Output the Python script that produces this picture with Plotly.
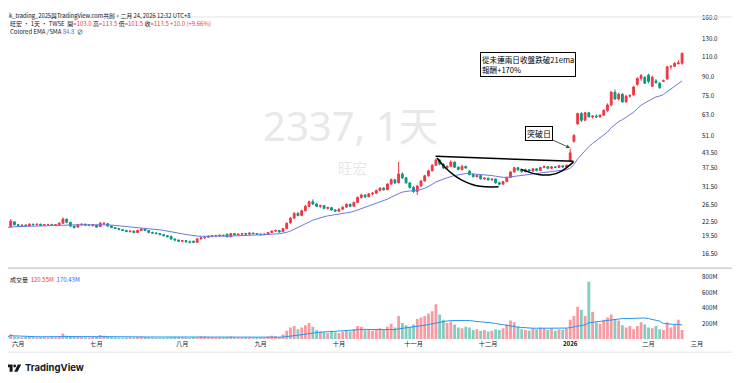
import plotly.graph_objects as go
import pandas as pd
import numpy as np

# ---------------- data ----------------
holidays = ["2025-05-30", "2025-09-29", "2025-10-06", "2025-10-10", "2025-10-24",
            "2025-12-25", "2026-01-01", "2026-02-12", "2026-02-13", "2026-02-16",
            "2026-02-17", "2026-02-18", "2026-02-19", "2026-02-20"]
dates = [d for d in pd.bdate_range("2025-05-27", "2026-02-24")
         if d.strftime("%Y-%m-%d") not in holidays]

opens = [21.3,21.4,22.4,21.8,21.6,21.7,21.6,21.9,21.8,21.9,21.7,21.8,21.8,21.7,21.8,22.1,23.0,22.3,21.5,21.3,
         21.8,21.9,21.7,21.6,21.7,21.4,22.0,22.0,21.5,21.2,21.0,20.8,20.6,20.4,20.5,20.2,20.6,20.9,20.6,20.2,
         20.1,20.0,19.8,19.6,19.5,19.0,18.8,18.6,18.7,18.5,18.6,18.4,19.0,19.2,19.3,19.5,19.6,19.6,19.7,19.9,
         19.4,20.0,19.8,19.9,20.0,19.9,20.1,20.0,19.9,19.8,19.9,20.2,20.5,20.6,20.4,21.0,22.2,23.2,24.3,23.8,
         24.9,26.0,27.2,26.6,26.0,26.2,25.5,25.7,25.1,24.8,25.3,25.8,26.5,26.0,27.0,28.3,29.0,28.5,29.3,29.5,
         30.3,31.0,30.5,32.2,33.6,32.6,35.5,34.2,32.6,31.2,30.0,31.6,33.2,34.9,36.6,38.6,40.6,39.0,37.6,38.2,
         39.8,37.9,37.0,38.2,36.5,35.3,34.6,35.0,33.9,34.1,33.6,33.8,32.6,32.2,33.0,34.3,36.2,37.7,36.9,36.3,
         37.0,36.5,37.3,36.7,37.8,38.1,37.5,38.0,37.8,38.4,38.0,40.3,48.6,57.5,63.5,59.5,64.0,61.5,62.0,61.5,
         62.5,65.5,69.0,78.0,73.0,76.5,71.0,75.0,76.0,84.0,89.0,90.0,92.0,82.5,87.0,85.0,86.5,88.5,99.5,100.0,
         102.5,103.0]
highs = [21.5,23.0,22.5,21.9,21.8,21.9,22.1,22.0,22.0,22.0,21.9,22.0,22.0,21.9,22.3,23.4,23.1,22.4,21.6,22.0,
         22.0,22.0,21.8,21.9,21.8,22.4,22.3,22.1,21.6,21.3,21.1,20.9,20.8,20.6,20.6,20.8,21.0,21.0,20.7,20.4,
         20.3,20.1,19.9,19.7,19.6,19.1,18.9,18.8,18.8,18.7,18.7,19.2,19.4,19.4,19.6,19.7,19.8,19.8,19.8,20.0,
         20.1,20.1,20.0,20.1,20.1,20.2,20.2,20.1,20.0,20.0,20.3,20.6,20.8,20.7,21.1,22.3,23.5,24.6,24.6,25.2,
         26.4,27.5,27.8,26.9,26.4,26.3,25.9,25.8,25.3,25.5,26.0,26.8,26.7,27.2,28.6,29.4,29.2,29.6,29.8,30.6,
         31.2,31.3,32.5,34.0,33.8,39.8,36.0,34.5,32.8,31.6,32.0,33.5,35.2,37.0,39.0,41.2,41.0,39.4,38.6,40.5,
         40.0,38.2,38.8,38.4,36.8,35.6,35.3,35.2,34.4,34.3,34.0,34.0,33.0,33.2,34.6,36.5,38.0,38.0,37.2,37.4,
         37.2,37.6,37.5,38.0,38.6,38.3,38.4,38.3,38.8,38.6,38.9,45.3,52.0,64.0,64.5,64.5,64.5,62.5,63.0,63.0,
         66.0,70.0,79.0,80.0,77.5,77.0,76.0,76.5,83.0,90.0,93.0,91.0,93.0,91.5,88.5,86.0,88.0,100.5,101.0,104.0,
         106.0,113.5]
lows = [21.1,21.3,21.6,21.4,21.4,21.5,21.5,21.6,21.6,21.6,21.5,21.6,21.6,21.5,21.6,22.0,22.1,21.3,21.0,21.2,
        21.6,21.6,21.5,21.4,21.2,21.3,21.8,21.4,21.1,20.9,20.7,20.5,20.3,20.2,20.1,20.1,20.5,20.5,20.1,20.0,
        19.9,19.7,19.5,19.3,18.9,18.6,18.5,18.4,18.3,18.2,18.3,18.3,18.9,19.0,19.2,19.3,19.4,19.4,19.5,19.3,
        19.3,19.7,19.7,19.8,19.8,19.8,19.9,19.8,19.7,19.7,19.8,20.1,20.3,20.2,20.3,20.9,22.0,23.1,23.6,23.7,
        24.8,25.8,26.3,25.8,25.6,25.3,25.2,24.9,24.6,24.7,25.1,25.7,25.8,25.9,26.9,28.0,28.2,28.4,28.9,29.3,
        30.0,30.2,30.4,32.0,32.2,32.5,33.8,32.3,30.8,29.6,29.0,31.4,33.0,34.6,36.4,38.3,38.6,37.2,37.3,37.9,
        37.6,36.8,36.8,37.4,35.0,34.3,34.3,33.6,33.5,33.3,33.2,32.3,31.8,31.9,32.8,34.1,36.0,36.6,36.0,36.1,
        36.2,36.3,36.4,36.5,37.5,37.2,37.3,37.5,37.6,37.7,37.8,40.2,48.0,57.0,58.5,59.0,61.0,60.5,61.0,61.0,
        62.0,64.5,68.0,72.5,72.0,70.5,70.5,74.0,75.5,83.0,87.0,84.5,85.0,82.0,84.5,80.5,86.0,88.0,97.0,99.5,
        102.0,101.5]
closes = [21.2,22.6,21.8,21.6,21.7,21.6,21.9,21.8,21.9,21.7,21.8,21.8,21.7,21.8,22.1,23.0,22.3,21.5,21.2,21.8,
          21.9,21.7,21.7,21.8,21.3,22.1,22.1,21.5,21.2,21.0,20.8,20.6,20.4,20.5,20.2,20.6,20.9,20.6,20.2,20.1,
          20.0,19.8,19.6,19.4,19.0,18.8,18.6,18.7,18.5,18.4,18.4,19.0,19.2,19.3,19.5,19.6,19.6,19.7,19.6,19.4,
          20.0,19.8,19.9,20.0,19.9,20.1,20.0,19.9,19.8,19.9,20.2,20.5,20.6,20.3,21.0,22.1,23.2,24.3,23.8,24.9,
          26.0,27.2,26.6,26.0,26.2,25.5,25.7,25.1,24.8,25.3,25.8,26.5,26.0,27.0,28.3,29.0,28.5,29.3,29.5,30.3,
          31.0,30.5,32.2,33.6,32.6,35.5,34.2,32.6,31.2,30.0,31.6,33.2,34.9,36.6,38.6,40.6,39.0,37.6,38.2,39.8,
          37.9,37.1,38.2,37.6,35.3,34.6,35.0,33.9,34.1,33.6,33.8,32.6,32.2,33.0,34.3,36.2,37.7,36.9,36.3,37.0,
          36.5,37.3,36.7,37.8,38.1,37.5,38.0,37.8,38.4,38.0,38.6,43.5,51.5,63.5,59.5,64.0,61.5,62.0,61.5,62.5,
          65.5,69.0,78.0,73.0,76.5,71.0,75.0,75.5,82.0,89.0,91.5,85.0,86.5,90.0,85.5,81.5,87.0,99.5,100.0,103.0,
          103.5,113.5]
volumes_m = [30,65,35,
             30,25,28,35,25,22,28,25,22,30,26,35,75,45,40,30,35,28,25,22,30,
             28,55,45,35,28,25,22,20,22,25,20,30,35,28,25,22,20,18,20,22,25,30,28,
             25,22,20,24,26,40,35,28,25,22,24,20,30,35,25,22,20,24,22,20,25,
             22,25,35,45,40,30,60,110,150,170,130,150,180,210,160,120,100,90,80,100,90,
             80,95,120,100,130,170,160,120,130,110,130,140,120,160,200,150,300,210,180,160,
             190,260,280,300,330,360,450,320,250,210,230,190,150,140,160,150,120,130,110,120,
             100,110,130,120,140,190,240,220,160,130,120,110,140,130,150,140,120,140,110,130,120,140,
             250,300,420,380,300,740,350,220,200,250,280,320,260,240,180,150,170,130,170,220,190,
             150,140,170,130,120,220,150,190,250,120.55]

month_labels = ["六月", "七月", "八月", "九月", "十月", "十一月", "十二月", "<b>2026</b>", "二月", "三月"]
price_ticks = [160.0, 130.0, 110.0, 90.0, 75.0, 63.0, 51.0, 43.5, 37.5, 31.5, 26.5, 22.5, 19.5, 16.5]
price_tick_text = ["160.0", "130.0", "110.0", "90.0", "75.0", "63.0", "51.0", "43.50", "37.50",
                   "31.50", "26.50", "22.50", "19.50", "16.50"]
vol_ticks_m = [200, 400, 600, 800]

# hand-drawn pattern lines (x = bar index, y = price)
neck_x = [114.9, 151.9]
neck_y = [42.1, 40.1]
cup1_x = [115.3, 117.6, 120.2, 122.9, 125.6, 128.3, 131.8]
cup1_y = [41.4, 37.6, 34.8, 32.9, 31.8, 31.4, 31.4]
cup2_x = [137.7, 142.5, 146.1, 148.7, 151.9]
cup2_y = [37.2, 35.3, 35.3, 36.5, 39.9]

# ---------------- derived ----------------
n = len(closes)
xs = list(range(n))
vol = [v * 1e6 for v in volumes_m]
ema = pd.Series(closes).ewm(span=21, adjust=False).mean()
vma = pd.Series(vol).rolling(20, min_periods=1).mean()

tick_idx = []
prev = None
for i, d in enumerate(dates):
    if prev is not None and d.month != prev:
        tick_idx.append(i)
    prev = d.month
tick_idx = tick_idx[:9] + [n + 3]

UP, DN = "#F23645", "#089981"
vcol = ["rgba(242,54,69,0.5)" if c >= o else "rgba(8,153,129,0.5)" for o, c in zip(opens, closes)]

fig = go.Figure()
fig.add_trace(go.Candlestick(x=xs, open=opens, high=highs, low=lows, close=closes,
                             increasing=dict(line=dict(color=UP, width=1), fillcolor=UP),
                             decreasing=dict(line=dict(color=DN, width=1), fillcolor=DN),
                             whiskerwidth=0, xaxis="x", yaxis="y", hoverinfo="skip"))
fig.add_trace(go.Scatter(x=xs, y=ema, mode="lines", line=dict(color="#6A78E0", width=1),
                         xaxis="x", yaxis="y", hoverinfo="skip"))
for cx, cy in [(neck_x, neck_y), (cup1_x, cup1_y), (cup2_x, cup2_y)]:
    fig.add_trace(go.Scatter(x=cx, y=cy, mode="lines", line=dict(color="#000000", width=1.5, shape="spline"),
                             xaxis="x", yaxis="y", hoverinfo="skip"))
fig.add_trace(go.Bar(x=xs, y=vol, marker=dict(color=vcol, line=dict(width=0)),
                     xaxis="x2", yaxis="y2", hoverinfo="skip"))
fig.add_trace(go.Scatter(x=xs, y=vma, mode="lines", line=dict(color="#2196F3", width=1),
                         xaxis="x2", yaxis="y2", hoverinfo="skip"))

# The page body has an 8px margin: the figure is laid out in page pixels shifted by it.
OX, OY = 8, 8
W, H = 740 - OX, 383 - OY
def px(x):
    return (x - OX) / W
def py(y):
    return 1 - (y - OY) / H

xr = [(8 - 7) / 3.74, 186.1]
fig.update_layout(
    width=W, height=H, margin=dict(l=0, r=0, t=0, b=0),
    paper_bgcolor="white", plot_bgcolor="white", showlegend=False,
    font=dict(family="Noto Sans CJK TC, Noto Sans, sans-serif", color="#131722", size=6),
    bargap=0.25,
    xaxis=dict(domain=[0, px(703)], range=xr, anchor="y", showticklabels=False, showgrid=False,
               zeroline=False, rangeslider=dict(visible=False), fixedrange=True),
    xaxis2=dict(domain=[0, px(703)], range=xr, anchor="y2", matches="x", showgrid=False, zeroline=False,
                tickmode="array", tickvals=tick_idx, ticktext=month_labels, ticks="",
                tickfont=dict(size=6.2, color="#131722")),
    yaxis=dict(domain=[py(266), py(13)], type="log", range=[np.log10(14.56), np.log10(163.9)], side="right",
               anchor="x", tickmode="array", tickvals=price_ticks, ticktext=price_tick_text,
               showgrid=False, zeroline=False, ticks="", tickfont=dict(size=6.2, color="#131722")),
    yaxis2=dict(domain=[py(339), py(268)], range=[0, 910e6], side="right", anchor="x2",
                tickmode="array", tickvals=[v * 1e6 for v in vol_ticks_m],
                ticktext=[f"{v}M" for v in vol_ticks_m], showgrid=False, zeroline=False, ticks="",
                tickfont=dict(size=6.2, color="#131722")),
)

lines = [
    (0, 740, 15, 15, "#E0E3EB"),
    (0, 735, 267.5, 267.5, "#B2B5BE"),
    (0, 735, 352, 352, "#E0E3EB"),
    (735, 735, 15, 352, "#E0E3EB"),
]
for x0, x1, y0, y1, c in lines:
    fig.add_shape(type="line", xref="paper", yref="paper", x0=px(x0), x1=px(x1), y0=py(y0), y1=py(y1),
                  line=dict(color=c, width=1))

red = "#F23645"
blue = "#2962FF"
fig.add_annotation(xref="paper", yref="paper", x=px(8), y=1, text="k_trading_2025與TradingView.com共創，二月 24, 2026 12:32 UTC+8",
                   showarrow=False, xanchor="left", yanchor="top", borderpad=0,
                   font=dict(size=5.8, color="#131722"))
ann = [
    (8, 21.5, ("旺宏 · 1天 · TWSE  開<span style='color:%s'>=103.0</span> 高<span style='color:%s'>=113.5</span> "
               "低<span style='color:%s'>=101.5</span> 收<span style='color:%s'>=113.5 +10.0 (+9.66%%)</span>")
     % (red, red, red, red)),
    (8, 30, "Colored EMA /SMA <span style='color:#5B6CE0'>84.8</span>  ∅"),
    (8, 279, "成交量  <span style='color:%s'>120.55M</span>  <span style='color:%s'>170.43M</span>" % (red, blue)),
]
for x, y, t in ann:
    fig.add_annotation(xref="paper", yref="paper", x=px(x), y=py(y), text=t,
                       showarrow=False, xanchor="left", yanchor="middle",
                       font=dict(size=6, color="#131722"))

# watermark
fig.add_annotation(xref="paper", yref="paper", x=px(352), y=py(154), text="2337, 1天", showarrow=False,
                   font=dict(size=40, color="#E8E8E8", family="Noto Sans, Noto Sans CJK TC"),
                   xanchor="center", yanchor="bottom")
fig.add_annotation(xref="paper", yref="paper", x=px(353), y=py(154), text="旺宏", showarrow=False,
                   font=dict(size=14.5, color="#E8E8E8"), xanchor="center", yanchor="top")

# text boxes
fig.add_annotation(xref="paper", yref="paper", x=px(481), y=py(50), text="從未連兩日收盤跌破21ema<br>報酬+170%",
                   showarrow=False, xanchor="left", yanchor="top", align="left",
                   font=dict(size=7.6, color="#000000"), bgcolor="white", bordercolor="#000000",
                   borderwidth=1, borderpad=1)
fig.add_annotation(xref="x", yref="y", x=151, y=np.log10(45.6), text="突破日", showarrow=True,
                   ax=-31, ay=-14, arrowhead=2, arrowsize=0.8, arrowwidth=1, arrowcolor="#555555",
                   font=dict(size=8, color="#000000"), bgcolor="white", bordercolor="#000000",
                   borderwidth=1, borderpad=1)

# TradingView logo (T, dot, slash) drawn in page pixels
fig.add_shape(type="path", xref="paper", yref="paper",
              path="M %f %f L %f %f L %f %f L %f %f L %f %f L %f %f L %f %f L %f %f Z" % (
                  px(6), py(364.5), px(12.6), py(364.5), px(12.6), py(371.8), px(9.6), py(371.8),
                  px(9.6), py(367.2), px(6), py(367.2), px(6), py(364.5), px(6), py(364.5)),
              fillcolor="#131722", line=dict(width=0))
fig.add_shape(type="circle", xref="paper", yref="paper", x0=px(13.3), x1=px(16.1), y0=py(364.5), y1=py(367.3),
              fillcolor="#131722", line=dict(width=0))
fig.add_shape(type="path", xref="paper", yref="paper",
              path="M %f %f L %f %f L %f %f L %f %f Z" % (
                  px(17.8), py(364.5), px(21.2), py(364.5), px(17.6), py(371.8), px(14.2), py(371.8)),
              fillcolor="#131722", line=dict(width=0))
fig.add_annotation(xref="paper", yref="paper", x=px(23.5), y=py(368), text="<b>TradingView</b>", showarrow=False,
                   xanchor="left", yanchor="middle", font=dict(size=9.5, color="#131722", family="Inter, Roboto"))

fig.write_html("out.html")
